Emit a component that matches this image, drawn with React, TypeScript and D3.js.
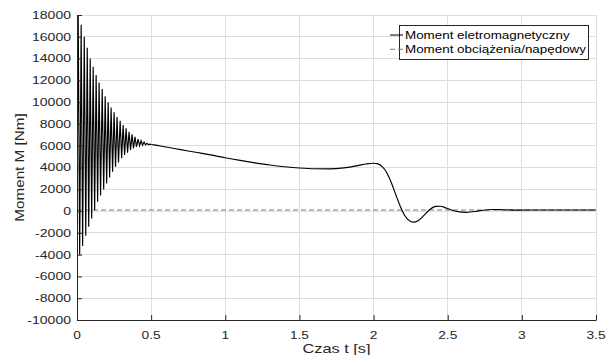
import React, { useEffect, useRef } from 'react';
import * as d3 from 'd3';

// czasy i wartości z wykresu (oscylacje rozruchu: szczyt / dolina na przemian)
const oscTime = [
  0, 0.008, 0.018, 0.028, 0.038, 0.049, 0.059, 0.069, 0.079, 0.089, 0.099,
  0.109, 0.119, 0.129, 0.139, 0.149, 0.159, 0.170, 0.180, 0.190, 0.200,
  0.210, 0.220, 0.230, 0.240, 0.250, 0.260, 0.270, 0.280, 0.291, 0.301,
  0.311, 0.321, 0.331, 0.341, 0.351, 0.361, 0.371, 0.381, 0.391, 0.401,
  0.412, 0.422, 0.432, 0.442, 0.452, 0.462, 0.472, 0.482, 0.492, 0.502,
];
const oscTorque = [
  0, 18000, -4040, 17100, -3200, 16000, -2270, 15000, -1440, 14000, -680,
  13250, 80, 12500, 850, 11800, 1420, 11200, 1980, 10550, 2540,
  10000, 3090, 9500, 3610, 9070, 4070, 8630, 4470, 8290, 4840,
  7900, 5140, 7590, 5360, 7280, 5600, 7040, 5760, 6820, 5900,
  6610, 6000, 6460, 6050, 6340, 6080, 6220, 6100, 6140, 6110,
];

// przebieg gładki po wygaśnięciu oscylacji
const smoothTime = [
  0.502, 0.52, 0.6, 0.7, 0.8, 0.9, 1.0, 1.1, 1.2, 1.3, 1.4, 1.5, 1.6, 1.7,
  1.8, 1.85, 1.9, 1.95, 2.0, 2.03, 2.06, 2.09, 2.12, 2.15, 2.18, 2.21, 2.25,
  2.27, 2.3, 2.34, 2.38, 2.42, 2.45, 2.49, 2.53, 2.58, 2.62, 2.68, 2.74, 2.8,
  2.87, 2.95, 3.1, 3.5,
];
const smoothTorque = [
  6110, 6080, 5880, 5640, 5400, 5160, 4890, 4650, 4430, 4230, 4070, 3950,
  3885, 3880, 3970, 4060, 4190, 4320, 4390, 4330, 4050, 3500, 2600, 1500,
  450, -400, -950, -1020, -880, -400, 150, 430, 440, 280, 80, -80, -120, -40,
  80, 140, 120, 90, 100, 100,
];

const loadTime = [0, 3.5];
const loadTorque = [100, 100];

const xTicks = [0, 0.5, 1, 1.5, 2, 2.5, 3, 3.5];
const xTickLabels = ['0', '0.5', '1', '1.5', '2', '2.5', '3', '3.5'];
const yTicks = [-10000, -8000, -6000, -4000, -2000, 0, 2000, 4000, 6000, 8000, 10000, 12000, 14000, 16000, 18000];

const legendLabels = ['Moment eletromagnetyczny', 'Moment obciążenia/napędowy'];
const xLabel = 'Czas t [s]';
const yLabel = 'Moment M [Nm]';

const App = () => {
  const svgRef = useRef(null);

  useEffect(() => {
    const width = 606;
    const height = 355;
    const margin = { top: 15, right: 10, bottom: 35, left: 77 };
    const font = '"Liberation Sans", Arial, Helvetica, sans-serif';
    const axisColor = '#262626';

    const svg = d3.select(svgRef.current)
      .attr('width', width)
      .attr('height', height);
    svg.selectAll('*').remove();

    const x = d3.scaleLinear().domain([0, 3.5]).range([margin.left, width - margin.right]);
    const y = d3.scaleLinear().domain([-10000, 18000]).range([height - margin.bottom, margin.top]);

    svg.append('rect').attr('width', width).attr('height', height).attr('fill', '#fff');

    // siatka
    const grid = svg.append('g');
    grid.selectAll('line.gx')
      .data(xTicks.slice(1))
      .join('line')
      .attr('x1', d => x(d)).attr('x2', d => x(d))
      .attr('y1', y(-10000)).attr('y2', y(18000))
      .attr('stroke', '#dedede').attr('stroke-width', 1)
      .attr('shape-rendering', 'crispEdges');
    grid.selectAll('line.gy')
      .data(yTicks.slice(1))
      .join('line')
      .attr('x1', x(0)).attr('x2', x(3.5))
      .attr('y1', d => y(d)).attr('y2', d => y(d))
      .attr('stroke', '#dedede').attr('stroke-width', 1)
      .attr('shape-rendering', 'crispEdges');

    svg.append('defs').append('clipPath').attr('id', 'plotClip')
      .append('rect')
      .attr('x', x(0)).attr('y', y(18000) - 1)
      .attr('width', x(3.5) - x(0)).attr('height', y(-10000) - y(18000) + 1);

    const line = d3.line().x(d => x(d[0])).y(d => y(d[1]));
    const smoothLine = d3.line().x(d => x(d[0])).y(d => y(d[1])).curve(d3.curveMonotoneX);

    const plot = svg.append('g').attr('clip-path', 'url(#plotClip)');

    plot.append('path')
      .datum(loadTime.map((t, i) => [t, loadTorque[i]]))
      .attr('d', line)
      .attr('fill', 'none')
      .attr('stroke', '#7a7a7a')
      .attr('stroke-width', 1)
      .attr('stroke-dasharray', '5,3');

    plot.append('path')
      .datum(oscTime.map((t, i) => [t, oscTorque[i]]))
      .attr('d', line)
      .attr('fill', 'none')
      .attr('stroke', '#000')
      .attr('stroke-width', 1.15);

    plot.append('path')
      .datum(smoothTime.map((t, i) => [t, smoothTorque[i]]))
      .attr('d', smoothLine)
      .attr('fill', 'none')
      .attr('stroke', '#000')
      .attr('stroke-width', 1.15);

    // osie
    const xAxis = svg.append('g')
      .attr('transform', `translate(0,${y(-10000)})`)
      .call(d3.axisBottom(x).tickValues(xTicks).tickSizeInner(-5).tickSizeOuter(0).tickFormat(() => ''));
    const yAxis = svg.append('g')
      .attr('transform', `translate(${x(0)},0)`)
      .call(d3.axisLeft(y).tickValues(yTicks).tickSizeInner(-5).tickSizeOuter(0).tickFormat(() => ''));
    [xAxis, yAxis].forEach(a => {
      a.select('.domain').attr('stroke', axisColor);
      a.selectAll('.tick line').attr('stroke', axisColor);
    });

    // etykiety osi (rozciągnięte w poziomie jak w oryginale)
    yTicks.forEach(v => {
      svg.append('text')
        .attr('transform', `translate(${x(0) - 6},${y(v)}) scale(1.3,1)`)
        .attr('text-anchor', 'end')
        .attr('dy', '0.36em')
        .style('font-family', font)
        .style('font-size', '10.8px')
        .attr('fill', axisColor)
        .text(v);
    });
    xTicks.forEach((v, i) => {
      svg.append('text')
        .attr('transform', `translate(${x(v)},${y(-10000) + 19}) scale(1.25,1)`)
        .attr('text-anchor', 'middle')
        .style('font-family', font)
        .style('font-size', '11px')
        .attr('fill', axisColor)
        .text(xTickLabels[i]);
    });

    svg.append('text')
      .attr('transform', `translate(${(x(0) + x(3.5)) / 2},353) scale(1.26,1)`)
      .attr('text-anchor', 'middle')
      .style('font-family', font)
      .style('font-size', '13px')
      .attr('fill', axisColor)
      .text(xLabel);

    svg.append('text')
      .attr('transform', `translate(24,${(y(-10000) + y(18000)) / 2}) rotate(-90) scale(1.22,1)`)
      .attr('text-anchor', 'middle')
      .style('font-family', font)
      .style('font-size', '12.5px')
      .attr('fill', axisColor)
      .text(yLabel);

    // legenda
    const legend = svg.append('g');
    legend.append('rect')
      .attr('x', 399.5).attr('y', 25.5)
      .attr('width', 189).attr('height', 34)
      .attr('fill', '#fff')
      .attr('stroke', axisColor)
      .attr('stroke-width', 1);
    const sampleStyle = [
      { color: '#000', dash: null },
      { color: '#7a7a7a', dash: '5,3' },
    ];
    legendLabels.forEach((label, i) => {
      const by = 39 + i * 14.3;
      legend.append('line')
        .attr('x1', 390).attr('x2', 403)
        .attr('y1', by - 4).attr('y2', by - 4)
        .attr('stroke', sampleStyle[i].color)
        .attr('stroke-dasharray', sampleStyle[i].dash);
      legend.append('text')
        .attr('transform', `translate(405,${by}) scale(1.22,1)`)
        .style('font-family', font)
        .style('font-size', '11px')
        .attr('fill', '#000')
        .text(label);
    });
  }, []);

  return (
    <svg ref={svgRef} style={{ position: 'absolute', left: 0, top: 0, display: 'block' }}></svg>
  );
};

export default App;
